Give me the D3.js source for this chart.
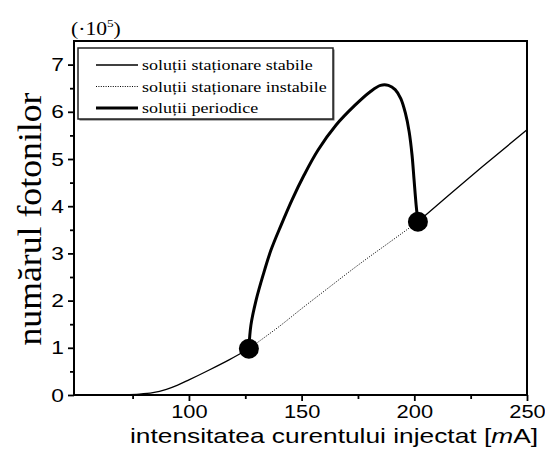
<!DOCTYPE html>
<html lang="ro">
<head>
<meta charset="UTF-8">
<title>Numărul fotonilor</title>
<script src="https://cdnjs.cloudflare.com/ajax/libs/d3/7.8.5/d3.min.js"></script>
<style>
  body { margin: 0; background: #fff; }
  svg { display: block; }
  .tick text { font-family: "Liberation Sans", Arial, sans-serif; font-size: 19px; fill: #000; }
</style>
</head>
<body>
<div id="chart"></div>
<script>
const SERIF = "'Liberation Serif', 'Times New Roman', 'DejaVu Serif', serif";
const SANS = "'Liberation Sans', Arial, sans-serif";

// current [mA] / photon count [x1e5]
const stableLow = [[49, 0], [60, 0.003], [70, 0.008], [78, 0.02], [84, 0.05], [90, 0.12],
  [95, 0.21], [100, 0.32], [109, 0.53], [118, 0.75], [126.6, 0.98]];
const stableHigh = [[201.6, 3.67], [215, 4.22], [230, 4.83], [250, 5.62]];
const unstable = [[126.6, 0.98], [140, 1.45], [150, 1.83], [160, 2.2], [175, 2.75], [190, 3.27], [201.6, 3.67]];
const periodic = [[126.6, 0.98], [127.5, 1.48], [129.8, 2.01], [132.9, 2.54], [136.4, 3.07],
  [140.9, 3.6], [145.7, 4.13], [151.1, 4.66], [157.3, 5.19], [165.3, 5.72], [173.7, 6.14],
  [180.3, 6.42], [185, 6.56], [188.5, 6.56], [191.5, 6.47], [194, 6.28], [196, 5.98], [197.7, 5.58],
  [199, 5.08], [199.9, 4.55], [200.8, 4.03], [201.6, 3.67]];
const hopfPoints = [[126.6, 0.98], [201.6, 3.67]];

const xMajor = [100, 150, 200, 250];
const xMinor = [75, 125, 175, 225];
const yMajor = [0, 1, 2, 3, 4, 5, 6, 7];
const yMinor = [0.5, 1.5, 2.5, 3.5, 4.5, 5.5, 6.5];

const legendItems = [
  { label: "soluții staționare stabile", width: 1.3, dash: null },
  { label: "soluții staționare instabile", width: 1, dash: "1,1.4" },
  { label: "soluții periodice", width: 3, dash: null }
];

const W = 545, H = 450;
const m = { left: 74, right: 18, top: 41, bottom: 55 };
const stretch = 1.2; // text is drawn a bit wide

const svg = d3.select("#chart").append("svg").attr("width", W).attr("height", H);

const x = d3.scaleLinear().domain([49, 250]).range([m.left, W - m.right]);
const y = d3.scaleLinear().domain([0, 7.5]).range([H - m.bottom, m.top]);

const line = d3.line().x(d => x(d[0])).y(d => y(d[1]));
const smooth = d3.line().x(d => x(d[0])).y(d => y(d[1])).curve(d3.curveCatmullRom.alpha(0.5));

// curves
svg.append("path").attr("d", smooth(stableLow)).attr("fill", "none").attr("stroke", "#000").attr("stroke-width", 1.3);
svg.append("path").attr("d", line(stableHigh)).attr("fill", "none").attr("stroke", "#000").attr("stroke-width", 1.3);
svg.append("path").attr("d", smooth(unstable)).attr("fill", "none").attr("stroke", "#000")
  .attr("stroke-width", 1).attr("stroke-dasharray", "1,1.4");
svg.append("path").attr("d", smooth(periodic)).attr("fill", "none").attr("stroke", "#000").attr("stroke-width", 3);

svg.selectAll(".hopf").data(hopfPoints).enter().append("circle")
  .attr("cx", d => x(d[0])).attr("cy", d => y(d[1])).attr("r", 10).attr("fill", "#000");

// axes
const xAxis = svg.append("g").attr("transform", `translate(0,${H - m.bottom})`)
  .call(d3.axisBottom(x).tickValues(xMajor).tickSize(6).tickPadding(4));
svg.append("g").attr("transform", `translate(0,${H - m.bottom})`)
  .call(d3.axisBottom(x).tickValues(xMinor).tickSize(4).tickFormat(""));
const yAxis = svg.append("g").attr("transform", `translate(${m.left},0)`)
  .call(d3.axisLeft(y).tickValues(yMajor).tickSize(6).tickPadding(4));
svg.append("g").attr("transform", `translate(${m.left},0)`)
  .call(d3.axisLeft(y).tickValues(yMinor).tickSize(4).tickFormat(""));

svg.selectAll(".domain").remove();
svg.selectAll(".tick line").attr("stroke", "#000").attr("stroke-width", 1.8);
xAxis.selectAll(".tick text").attr("transform", `scale(1.15,1)`);
yAxis.selectAll(".tick text").attr("x", -10 / stretch).attr("transform", `scale(${stretch},1)`);

// frame
svg.append("rect")
  .attr("x", m.left).attr("y", m.top)
  .attr("width", W - m.left - m.right).attr("height", H - m.top - m.bottom)
  .attr("fill", "none").attr("stroke", "#000").attr("stroke-width", 2);

// legend
const lg = svg.append("g").attr("transform", "translate(78,48)");
lg.append("rect").attr("x", 1.5).attr("y", 1.5).attr("width", 255).attr("height", 71).attr("fill", "#666");
lg.append("rect").attr("width", 255).attr("height", 71).attr("fill", "#fff").attr("stroke", "#222").attr("stroke-width", 1.5);
legendItems.forEach((d, i) => {
  const cy = 17 + i * 21.5;
  lg.append("line").attr("x1", 18).attr("x2", 60).attr("y1", cy).attr("y2", cy)
    .attr("stroke", "#000").attr("stroke-width", d.width).attr("stroke-dasharray", d.dash);
  lg.append("text").attr("font-family", SERIF)
    .attr("transform", `translate(64,${cy + 5}) scale(${stretch},1)`)
    .attr("font-size", 15).text(d.label);
});

// scale factor note
const pw = svg.append("text").attr("font-family", SERIF)
  .attr("transform", `translate(71,35) scale(${stretch},1)`).attr("font-size", 18);
pw.append("tspan").text("(·10");
pw.append("tspan").attr("font-size", 11).attr("dy", -8).text("5");
pw.append("tspan").attr("dy", 8).text(")");

// axis titles
const xt = svg.append("text")
  .attr("x", (130 + 538) / 2).attr("y", 443)
  .attr("text-anchor", "middle")
  .attr("font-family", SANS).attr("font-size", 21)
  .attr("textLength", 408).attr("lengthAdjust", "spacingAndGlyphs");
xt.append("tspan").text("intensitatea curentului injectat [");
xt.append("tspan").attr("font-style", "italic").text("m");
xt.append("tspan").text("A]");

svg.append("text").attr("font-family", SERIF)
  .attr("transform", "translate(41,219) rotate(-90)")
  .attr("text-anchor", "middle").attr("font-size", 34)
  .attr("textLength", 253).attr("lengthAdjust", "spacingAndGlyphs")
  .text("numărul fotonilor");
</script>
</body>
</html>
